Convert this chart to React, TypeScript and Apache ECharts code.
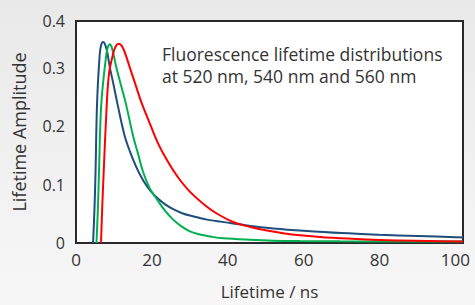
import React, { useEffect, useRef } from "react";
import * as echarts from "echarts";

// Lifetime (ns) vs amplitude
const blue520: [number, number][] = [
  [4.5, 0], [4.9, 0.064], [5.15, 0.122], [5.55, 0.239], [6.25, 0.323], [6.6, 0.338],
  [7.1, 0.344], [7.6, 0.341], [8.2, 0.328], [8.9, 0.301], [9.9, 0.271], [10.9, 0.239],
  [12.8, 0.184], [14.2, 0.157], [15.9, 0.13], [17.2, 0.113], [18.5, 0.099], [19.8, 0.088],
  [21.6, 0.076], [23.5, 0.066], [25.6, 0.058], [28, 0.051], [30, 0.047], [34.5, 0.04],
  [41, 0.034], [46, 0.029], [52, 0.025], [60, 0.021], [70, 0.017], [80, 0.0142],
  [90, 0.012], [100, 0.01], [102, 0.0095],
];
const green540: [number, number][] = [
  [5.4, 0], [5.8, 0.064], [6.06, 0.122], [6.67, 0.239], [7.99, 0.323], [8.43, 0.336],
  [8.88, 0.34], [9.36, 0.336], [9.88, 0.323], [10.62, 0.301], [11.86, 0.27], [13.13, 0.239],
  [15.02, 0.184], [16.34, 0.153], [17.66, 0.122], [19.42, 0.094], [21.61, 0.072],
  [23.5, 0.055], [25.6, 0.04], [27.7, 0.029], [30, 0.02], [32.7, 0.0145], [35.9, 0.0105],
  [38.8, 0.008], [45.8, 0.0055], [52, 0.004], [59, 0.0033], [69.6, 0.0028], [85.4, 0.0026],
  [102, 0.0025],
];
const red560: [number, number][] = [
  [6.59, 0], [6.93, 0.064], [7.3, 0.122], [8.12, 0.239], [8.7, 0.29], [9.75, 0.323],
  [10.41, 0.336], [11.25, 0.341], [12.12, 0.337], [13.05, 0.323], [14.15, 0.301],
  [15.68, 0.271], [17.34, 0.239], [19.5, 0.204], [21.6, 0.171], [23.7, 0.145],
  [26.5, 0.116], [30, 0.088], [34.5, 0.062], [37.1, 0.0505], [41.4, 0.036], [45.9, 0.0275],
  [50.3, 0.0213], [54.6, 0.0168], [59, 0.0134], [67.7, 0.0088], [76.6, 0.006],
  [85.4, 0.0043], [93, 0.0033], [102, 0.0025],
];

const xTicks = [0, 20, 40, 60, 80, 100];
const yTicks = [0, 0.1, 0.2, 0.3, 0.4];
const xTitle = "Lifetime / ns";
const yTitle = "Lifetime Amplitude";
const noteLines = ["Fluorescence lifetime distributions", "at 520 nm, 540 nm and 560 nm"];

const FONT = "Open Sans";
const TEXT = "#333333";

export default function App() {
  const ref = useRef<HTMLDivElement>(null);
  useEffect(() => {
    if (!ref.current) return;
    const chart = echarts.init(ref.current, null, { renderer: "svg" });
    const series = [
      { name: "520 nm", data: blue520, color: "#1f4e7c" },
      { name: "540 nm", data: green540, color: "#00b050" },
      { name: "560 nm", data: red560, color: "#ff0000" },
    ].map((s) => ({
      type: "line",
      name: s.name,
      data: s.data,
      smooth: 0.35,
      showSymbol: false,
      lineStyle: { color: s.color, width: 2 },
      itemStyle: { color: s.color },
    }));
    chart.setOption({
      animation: false,
      backgroundColor: new echarts.graphic.LinearGradient(0, 0, 0, 1, [
        { offset: 0, color: "#e9e9e9" },
        { offset: 1, color: "#f7f7f7" },
      ]),
      textStyle: { fontFamily: FONT },
      grid: {
        left: 76, top: 21, width: 387, height: 227,
        show: true, backgroundColor: "#ffffff", borderColor: "#2a2a2a", borderWidth: 2,
      },
      xAxis: {
        type: "value", min: 0, max: 102, interval: 20,
        axisLine: { show: false }, axisTick: { show: false }, splitLine: { show: false },
        axisLabel: {
          color: TEXT, fontSize: 17, fontFamily: FONT, margin: 8,
          formatter: (v: number) => (xTicks.includes(Math.round(v * 1000) / 1000) ? String(Math.round(v)) : ""),
        },
        name: xTitle, nameLocation: "middle", nameGap: 40,
        nameTextStyle: { color: TEXT, fontSize: 17, fontFamily: FONT },
      },
      yAxis: {
        type: "value", min: 0, max: 0.38, interval: 0.1,
        axisLine: { show: false }, axisTick: { show: false }, splitLine: { show: false },
        axisLabel: {
          color: TEXT, fontSize: 16, fontFamily: FONT, margin: 11,
          formatter: (v: number) => {
            const r = v > 0.35 ? yTicks[4] : Math.round(v * 10) / 10;
            return String(r);
          },
        },
        name: yTitle, nameLocation: "middle", nameGap: 48, nameRotate: 90,
        nameTextStyle: { color: TEXT, fontSize: 18, fontFamily: FONT },
      },
      graphic: [
        {
          type: "text", left: 162, top: 43,
          style: { text: noteLines.join("\n"), fill: TEXT, font: `17.5px '${FONT}'`, lineHeight: 22 },
        },
      ],
      series,
    });
    return () => chart.dispose();
  }, []);
  return <div ref={ref} style={{ position: "fixed", left: 0, top: 0, width: 475, height: 305 }} />;
}
